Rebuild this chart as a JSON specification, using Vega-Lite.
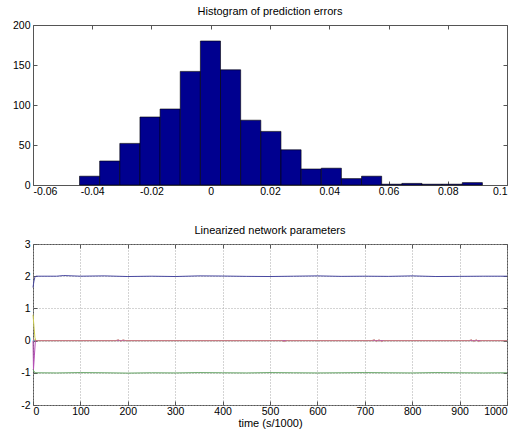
{
  "$schema": "https://vega.github.io/schema/vega-lite/v6.json",
  "background": "white",
  "padding": {"left": 11, "top": 5, "right": 5, "bottom": 3},
  "bounds": "flush",
  "spacing": 59,
  "config": {
    "font": "Liberation Sans",
    "view": {"stroke": "#555555", "strokeWidth": 1},
    "axis": {
      "labelFont": "Liberation Sans",
      "labelFontSize": 10.5,
      "labelColor": "#000000",
      "titleFont": "Liberation Sans",
      "titleFontWeight": "normal",
      "titleColor": "#000000",
      "domain": false,
      "grid": false,
      "tickColor": "#555555",
      "tickSize": -4,
      "labelPadding": 7
    },
    "axisX": {"labelPadding": 5},
    "title": {"font": "Liberation Sans", "fontSize": 11, "fontWeight": "normal", "color": "#000000", "offset": 3}
  },
  "datasets": {
    "errors": [
      {"lo": -0.0443, "hi": -0.0375, "count": 11},
      {"lo": -0.0375, "hi": -0.0307, "count": 30},
      {"lo": -0.0307, "hi": -0.0239, "count": 52},
      {"lo": -0.0239, "hi": -0.0171, "count": 85},
      {"lo": -0.0171, "hi": -0.0103, "count": 95},
      {"lo": -0.0103, "hi": -0.0035, "count": 142},
      {"lo": -0.0035, "hi": 0.0033, "count": 180},
      {"lo": 0.0033, "hi": 0.0101, "count": 144},
      {"lo": 0.0101, "hi": 0.0169, "count": 81},
      {"lo": 0.0169, "hi": 0.0237, "count": 67},
      {"lo": 0.0237, "hi": 0.0305, "count": 44},
      {"lo": 0.0305, "hi": 0.0373, "count": 20},
      {"lo": 0.0373, "hi": 0.0441, "count": 21},
      {"lo": 0.0441, "hi": 0.0509, "count": 8},
      {"lo": 0.0509, "hi": 0.0577, "count": 11},
      {"lo": 0.0577, "hi": 0.0645, "count": 1},
      {"lo": 0.0645, "hi": 0.0713, "count": 2},
      {"lo": 0.0713, "hi": 0.0781, "count": 1},
      {"lo": 0.0781, "hi": 0.0849, "count": 1},
      {"lo": 0.0849, "hi": 0.0917, "count": 3}
    ],
    "params": [
      {"t": 0, "v": 0, "s": "p1"},
      {"t": 1000, "v": 0, "s": "p1"},
      {"t": 0, "v": 0.8, "s": "p2"},
      {"t": 2, "v": 0.45, "s": "p2"},
      {"t": 4, "v": 0.1, "s": "p2"},
      {"t": 6, "v": 0, "s": "p2"},
      {"t": 1000, "v": 0, "s": "p2"},
      {"t": 0, "v": 0, "s": "p3"},
      {"t": 1, "v": -0.9, "s": "p3"},
      {"t": 3, "v": -0.45, "s": "p3"},
      {"t": 5, "v": 0, "s": "p3"},
      {"t": 1000, "v": 0, "s": "p3"},
      {"t": 0, "v": -0.9, "s": "p4"},
      {"t": 4, "v": -1.0, "s": "p4"},
      {"t": 50, "v": -1.005, "s": "p4"},
      {"t": 100, "v": -0.995, "s": "p4"},
      {"t": 150, "v": -1.0, "s": "p4"},
      {"t": 200, "v": -1.01, "s": "p4"},
      {"t": 250, "v": -1.0, "s": "p4"},
      {"t": 300, "v": -1.005, "s": "p4"},
      {"t": 350, "v": -0.995, "s": "p4"},
      {"t": 400, "v": -1.0, "s": "p4"},
      {"t": 450, "v": -1.005, "s": "p4"},
      {"t": 500, "v": -0.995, "s": "p4"},
      {"t": 550, "v": -1.0, "s": "p4"},
      {"t": 600, "v": -1.005, "s": "p4"},
      {"t": 650, "v": -1.0, "s": "p4"},
      {"t": 700, "v": -0.995, "s": "p4"},
      {"t": 750, "v": -1.0, "s": "p4"},
      {"t": 800, "v": -1.005, "s": "p4"},
      {"t": 850, "v": -0.995, "s": "p4"},
      {"t": 900, "v": -1.0, "s": "p4"},
      {"t": 950, "v": -1.005, "s": "p4"},
      {"t": 1000, "v": -1.0, "s": "p4"},
      {"t": 0, "v": 0.05, "s": "p5"},
      {"t": 5, "v": 0, "s": "p5"},
      {"t": 175, "v": 0, "s": "p5"},
      {"t": 180, "v": 0.03, "s": "p5"},
      {"t": 185, "v": -0.02, "s": "p5"},
      {"t": 190, "v": 0.025, "s": "p5"},
      {"t": 195, "v": 0, "s": "p5"},
      {"t": 525, "v": 0, "s": "p5"},
      {"t": 530, "v": -0.03, "s": "p5"},
      {"t": 535, "v": 0, "s": "p5"},
      {"t": 715, "v": 0, "s": "p5"},
      {"t": 720, "v": 0.03, "s": "p5"},
      {"t": 725, "v": -0.03, "s": "p5"},
      {"t": 730, "v": 0.03, "s": "p5"},
      {"t": 735, "v": -0.03, "s": "p5"},
      {"t": 740, "v": 0, "s": "p5"},
      {"t": 920, "v": 0, "s": "p5"},
      {"t": 925, "v": 0.03, "s": "p5"},
      {"t": 930, "v": -0.03, "s": "p5"},
      {"t": 935, "v": 0.03, "s": "p5"},
      {"t": 940, "v": -0.03, "s": "p5"},
      {"t": 945, "v": 0, "s": "p5"},
      {"t": 1000, "v": 0, "s": "p5"},
      {"t": 0, "v": 1.65, "s": "p6"},
      {"t": 2, "v": 1.85, "s": "p6"},
      {"t": 4, "v": 1.97, "s": "p6"},
      {"t": 6, "v": 2.0, "s": "p6"},
      {"t": 50, "v": 2.0, "s": "p6"},
      {"t": 65, "v": 2.02, "s": "p6"},
      {"t": 100, "v": 2.0, "s": "p6"},
      {"t": 150, "v": 2.01, "s": "p6"},
      {"t": 200, "v": 1.99, "s": "p6"},
      {"t": 250, "v": 2.0, "s": "p6"},
      {"t": 300, "v": 1.99, "s": "p6"},
      {"t": 350, "v": 2.01, "s": "p6"},
      {"t": 400, "v": 2.005, "s": "p6"},
      {"t": 450, "v": 1.995, "s": "p6"},
      {"t": 500, "v": 1.99, "s": "p6"},
      {"t": 550, "v": 2.0, "s": "p6"},
      {"t": 600, "v": 2.01, "s": "p6"},
      {"t": 650, "v": 1.995, "s": "p6"},
      {"t": 700, "v": 2.0, "s": "p6"},
      {"t": 750, "v": 1.995, "s": "p6"},
      {"t": 800, "v": 2.01, "s": "p6"},
      {"t": 850, "v": 1.99, "s": "p6"},
      {"t": 900, "v": 1.995, "s": "p6"},
      {"t": 950, "v": 2.0, "s": "p6"},
      {"t": 1000, "v": 2.0, "s": "p6"}
    ]
  },
  "vconcat": [
    {
      "title": "Histogram of prediction errors",
      "width": 474,
      "height": 160,
      "data": {"name": "errors"},
      "resolve": {"axis": {"x": "independent", "y": "independent"}},
      "layer": [
        {
          "mark": {"type": "bar", "color": "#00008f", "stroke": "#000000", "strokeWidth": 0.6},
          "encoding": {
            "x": {
              "field": "lo", "type": "quantitative",
              "scale": {"domain": [-0.06, 0.1], "nice": false, "zero": false},
              "axis": {"title": null, "orient": "bottom", "values": [-0.06, -0.04, -0.02, 0, 0.02, 0.04, 0.06, 0.08, 0.1], "labelExpr": "'' + datum.value"}
            },
            "x2": {"field": "hi"},
            "y": {
              "field": "count", "type": "quantitative",
              "scale": {"domain": [0, 200], "nice": false},
              "axis": {"title": null, "orient": "left", "values": [0, 50, 100, 150, 200], "labelExpr": "'' + datum.value"}
            },
            "y2": {"datum": 0}
          }
        },
        {
          "mark": {"type": "bar", "opacity": 0},
          "encoding": {
            "x": {
              "field": "lo", "type": "quantitative",
              "axis": {"title": null, "orient": "top", "labels": false, "values": [-0.06, -0.04, -0.02, 0, 0.02, 0.04, 0.06, 0.08, 0.1]}
            },
            "x2": {"field": "hi"},
            "y": {
              "field": "count", "type": "quantitative",
              "axis": {"title": null, "orient": "right", "labels": false, "values": [0, 50, 100, 150, 200]}
            },
            "y2": {"datum": 0}
          }
        }
      ]
    },
    {
      "title": "Linearized network parameters",
      "width": 474,
      "height": 161,
      "data": {"name": "params"},
      "resolve": {"axis": {"x": "independent", "y": "independent"}},
      "layer": [
        {
          "mark": {"type": "line", "strokeWidth": 1, "interpolate": "linear"},
          "encoding": {
            "x": {
              "field": "t", "type": "quantitative",
              "scale": {"domain": [0, 1000], "nice": false},
              "axis": {"title": "time (s/1000)", "titleFontSize": 11, "titlePadding": 1, "orient": "bottom", "values": [0, 100, 200, 300, 400, 500, 600, 700, 800, 900, 1000], "labelExpr": "'' + datum.value", "grid": true, "gridColor": "#a8a8a8", "gridDash": [1, 2], "gridOpacity": 1}
            },
            "y": {
              "field": "v", "type": "quantitative",
              "scale": {"domain": [-2, 3], "nice": false, "zero": false},
              "axis": {"title": null, "orient": "left", "values": [-2, -1, 0, 1, 2, 3], "labelExpr": "'' + datum.value", "grid": true, "gridColor": "#a8a8a8", "gridDash": [1, 2], "gridOpacity": 1}
            },
            "color": {
              "field": "s", "type": "nominal", "legend": null,
              "scale": {"domain": ["p1", "p2", "p3", "p4", "p5", "p6"], "range": ["#50b8b8", "#d0d050", "#b850b8", "#60a060", "#c88080", "#4848a0"]}
            },
            "order": {"field": "t", "type": "quantitative"}
          }
        },
        {
          "mark": {"type": "line", "opacity": 0},
          "encoding": {
            "x": {
              "field": "t", "type": "quantitative",
              "axis": {"title": null, "orient": "top", "labels": false, "values": [0, 100, 200, 300, 400, 500, 600, 700, 800, 900, 1000]}
            },
            "y": {
              "field": "v", "type": "quantitative",
              "axis": {"title": null, "orient": "right", "labels": false, "values": [-2, -1, 0, 1, 2, 3]}
            },
            "detail": {"field": "s"}
          }
        }
      ]
    }
  ]
}
